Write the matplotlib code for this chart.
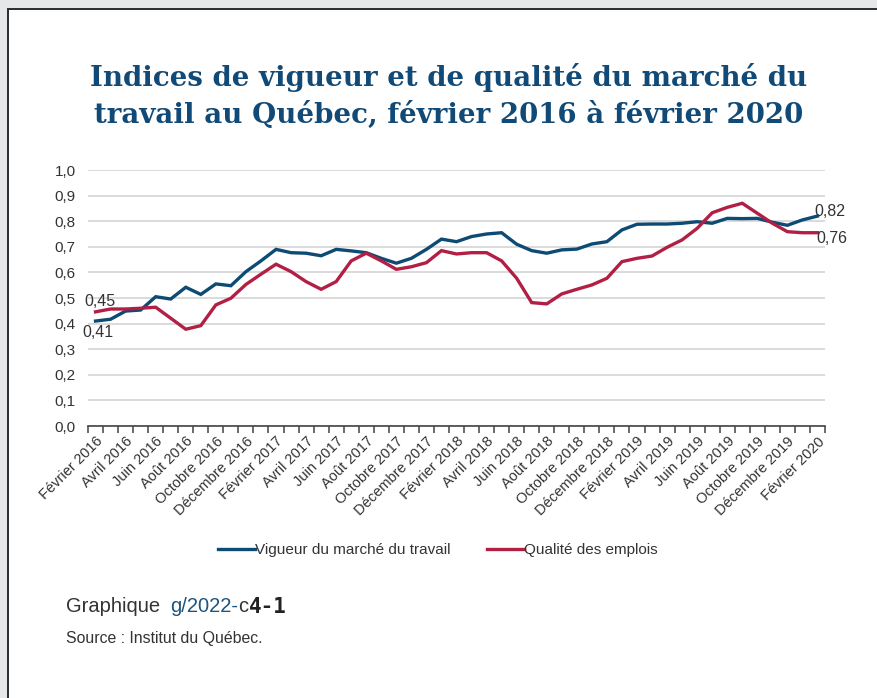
import matplotlib
matplotlib.use("Agg")
import matplotlib.pyplot as plt
from matplotlib.patches import Rectangle
import numpy as np

month_names = ["Janvier", "Février", "Mars", "Avril", "Mai", "Juin", "Juillet",
               "Août", "Septembre", "Octobre", "Novembre", "Décembre"]

# Monthly periods, Feb 2016 -> Feb 2020 (49 months)
periods = []
y, m = 2016, 2
for _ in range(49):
    periods.append(f"{month_names[m-1]} {y}")
    m += 1
    if m > 12:
        m = 1
        y += 1

vigueur = [0.410, 0.417, 0.449, 0.453, 0.505, 0.496, 0.542, 0.514, 0.555, 0.548, 0.603,
           0.645, 0.690, 0.677, 0.675, 0.665, 0.690, 0.684, 0.677, 0.655, 0.636, 0.655, 0.690,
           0.730, 0.720, 0.740, 0.750, 0.755, 0.710, 0.685, 0.675, 0.688, 0.691, 0.711, 0.720,
           0.766, 0.788, 0.789, 0.789, 0.792, 0.798, 0.792, 0.811, 0.810, 0.811, 0.796, 0.784,
           0.805, 0.820]
qualite = [0.446, 0.457, 0.457, 0.460, 0.464, 0.421, 0.378, 0.392, 0.473, 0.499, 0.553,
           0.593, 0.632, 0.603, 0.564, 0.534, 0.564, 0.645, 0.675, 0.645, 0.612, 0.622, 0.638,
           0.685, 0.672, 0.677, 0.677, 0.645, 0.577, 0.482, 0.477, 0.516, 0.534, 0.551, 0.577,
           0.642, 0.655, 0.664, 0.698, 0.727, 0.772, 0.833, 0.854, 0.870, 0.831, 0.792, 0.759,
           0.755, 0.755]

series_names = ["Vigueur du marché du travail", "Qualité des emplois"]
title = "Indices de vigueur et de qualité du marché du\ntravail au Québec, février 2016 à février 2020"

BLUE = "#0d4a74"
RED = "#b21f45"
TITLE_C = "#114a77"
TXT = "#333333"

plt.rcParams['font.family'] = ['Liberation Sans', 'DejaVu Sans']

fig = plt.figure(figsize=(8.77, 6.98), dpi=100)
fig.patch.set_facecolor("#e6e7e9")
bg = Rectangle((7.5/877, -0.02), 1.05, 1 - 8.5/698 + 0.02,
               transform=fig.transFigure, facecolor="white",
               edgecolor="#2b2b2b", linewidth=1.4, zorder=-10)
fig.patches.append(bg)

fig.text(0.511, 1 - 96/698, title, ha="center", va="center",
         fontsize=19.9, fontweight="bold", family="DejaVu Serif",
         color=TITLE_C, linespacing=1.42)

ax = fig.add_axes([88/877, 1 - 426/698, (825-88)/877, (426-170)/698])
ax.set_facecolor("none")
x = np.arange(len(periods))
ax.plot(x, vigueur, color=BLUE, lw=2.4, label=series_names[0], solid_joinstyle="miter", zorder=3)
ax.plot(x, qualite, color=RED, lw=2.4, label=series_names[1], solid_joinstyle="miter", zorder=3)

ax.set_xlim(-0.5, len(periods) - 0.5)
ax.set_ylim(0, 1.0)
yt = np.round(np.arange(0, 1.01, 0.1), 1)
ax.set_yticks(yt)
ax.set_yticklabels([f"{v:.1f}".replace(".", ",") for v in yt], fontsize=11, color=TXT)
ax.tick_params(axis="y", length=0, pad=9)
ax.grid(axis="y", color="#d4d4d4", lw=1.2, zorder=0)
for s in ["top", "right", "left"]:
    ax.spines[s].set_visible(False)
ax.spines["bottom"].set_color("#444444")
ax.spines["bottom"].set_linewidth(1.2)

ax.set_xticks(x[::2])
ax.set_xticklabels(periods[::2], rotation=45, ha="right", va="top",
                   rotation_mode="anchor", fontsize=10.5, color=TXT)
ax.tick_params(axis="x", which="major", length=0, pad=6)
ax.set_xticks(np.arange(-0.5, len(periods)), minor=True)
ax.tick_params(axis="x", which="minor", length=5, width=1.1, color="#444444", direction="out")

def fmt(v):
    return f"{v:.2f}".replace(".", ",")

LFS = 11.5
ax.annotate(fmt(vigueur[0]), (x[0], vigueur[0]), xytext=(-9.7, -8), textcoords="offset points",
            fontsize=LFS, color=TXT, ha="left", va="center")
ax.annotate(fmt(qualite[0]), (x[0], qualite[0]), xytext=(-8.3, 7.4), textcoords="offset points",
            fontsize=LFS, color=TXT, ha="left", va="center")
ax.annotate(fmt(vigueur[-1]), (x[-1], vigueur[-1]), xytext=(-2.5, 3.1), textcoords="offset points",
            fontsize=LFS, color=TXT, ha="left", va="center")
ax.annotate(fmt(qualite[-1]), (x[-1], qualite[-1]), xytext=(-0.5, -4.5), textcoords="offset points",
            fontsize=LFS, color=TXT, ha="left", va="center")

leg = fig.legend(loc="center", bbox_to_anchor=(438/877, 1 - 550/698), ncol=2, frameon=False,
                 fontsize=11, handlelength=2.4, handletextpad=0.0, columnspacing=2.4)
for t in leg.get_texts():
    t.set_color(TXT)

# Footer
fy = 1 - 607/698
t1 = fig.text(66/877, fy, "Graphique", fontsize=14.5, color=TXT, va="center", ha="left")
fig.canvas.draw()
r = fig.canvas.get_renderer()
bb = t1.get_window_extent(r)
t2 = fig.text((bb.x1 + 10)/877, fy, "g/2022-", fontsize=14.5, color="#1c5580", va="center", ha="left")
bb2 = t2.get_window_extent(r)
t3 = fig.text(bb2.x1/877, fy, "c", fontsize=14.5, color=TXT, va="center", ha="left")
bb3 = t3.get_window_extent(r)
fig.text((bb3.x1 + 1)/877, fy, "4-1", fontsize=15, color="#222222", va="center", ha="left",
         family="DejaVu Sans Mono", fontweight="bold")
fig.text(66/877, 1 - 638/698, "Source : Institut du Québec.", fontsize=11.4, color=TXT,
         va="center", ha="left")

fig.savefig("out.png", dpi=100, facecolor=fig.get_facecolor())
